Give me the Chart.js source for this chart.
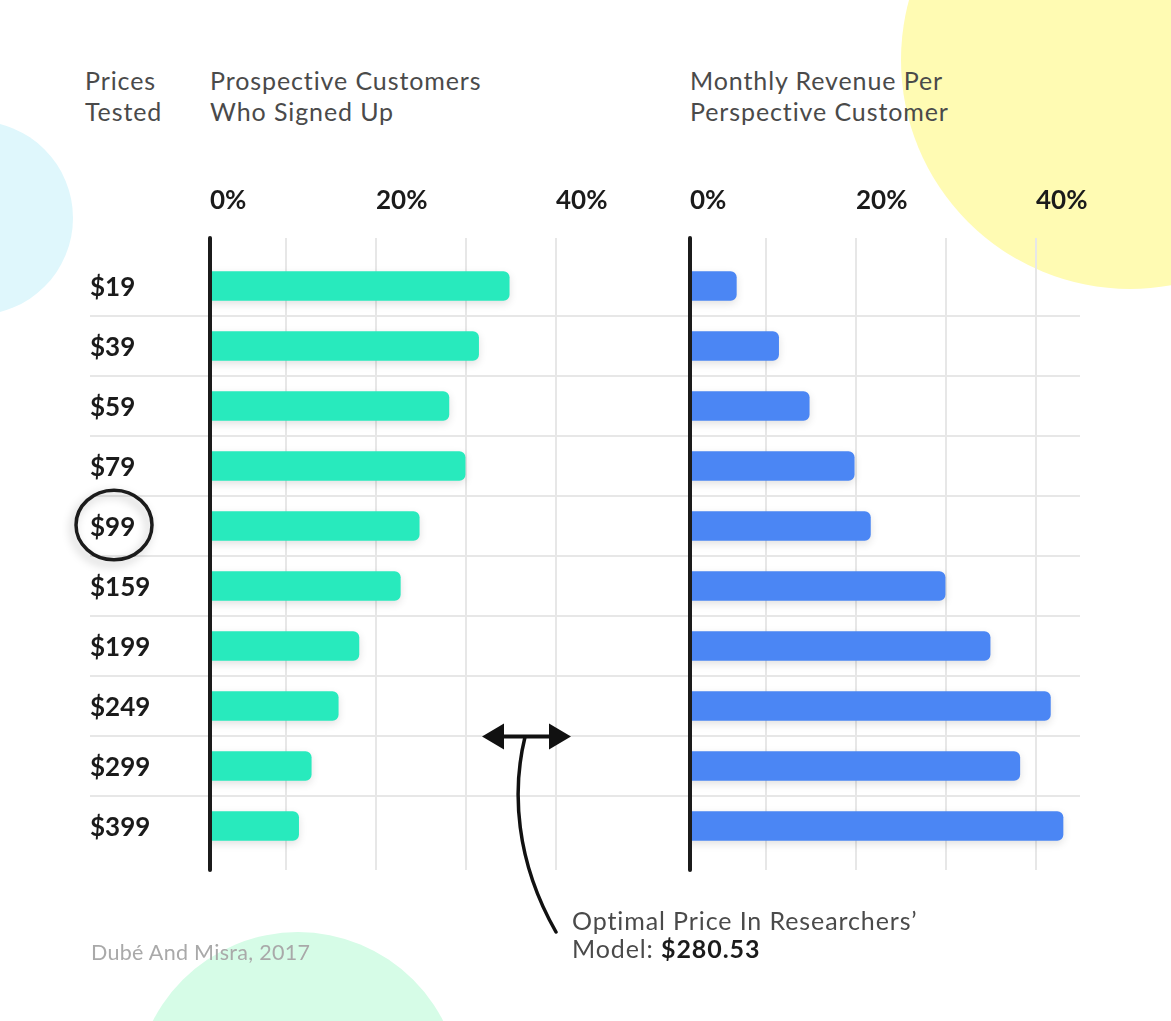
<!DOCTYPE html>
<html>
<head>
<meta charset="utf-8">
<title>Prices tested</title>
<script src="https://cdn.jsdelivr.net/npm/chart.js@4.4.1/dist/chart.umd.min.js"></script>
<style>
  html, body { margin: 0; padding: 0; background: #fff; }
  #page { position: relative; width: 1171px; height: 1021px; overflow: hidden; font-family: Lato, "Open Sans", sans-serif; }
  .blob { position: absolute; border-radius: 50%; }
  .layer { position: absolute; left: 0; top: 0; }
  .head { position: absolute; top: 65px; font-size: 25px; letter-spacing: 0.9px; line-height: 31px; color: #4a4a4a; white-space: nowrap; }
  .note { position: absolute; left: 572px; top: 906px; font-size: 25px; letter-spacing: 0.9px; line-height: 28px; color: #4a4a4a; white-space: nowrap; }
  .note b { color: #1b1b1b; font-weight: 700; }
  .source { position: absolute; left: 91px; top: 939px; font-size: 21.5px; letter-spacing: 0.3px; line-height: 26px; color: #a9a9a9; white-space: nowrap; }
</style>
</head>
<body>
<div id="page">
  <div class="blob" style="left:-121px; top:121px; width:194px; height:194px; background:#dff7fc;"></div>
  <div class="blob" style="left:901px; top:-169px; width:458px; height:458px; background:#fffbb3;"></div>
  <div class="blob" style="left:135px; top:932px; width:326px; height:326px; background:#d6fce7;"></div>

  <div class="head" style="left:85px;">Prices<br>Tested</div>
  <div class="head" style="left:210px;">Prospective Customers<br>Who Signed Up</div>
  <div class="head" style="left:690px;">Monthly Revenue Per<br>Perspective Customer</div>

  <canvas id="signups" class="layer" width="1171" height="1021"></canvas>
  <canvas id="revenue" class="layer" width="1171" height="1021"></canvas>

  <svg class="layer" width="1171" height="1021">
    <line x1="500" y1="736.5" x2="553" y2="736.5" stroke="#111" stroke-width="4"/>
    <polygon points="482,736.5 504,723.5 504,749.5" fill="#111"/>
    <polygon points="571,736.5 549,723.5 549,749.5" fill="#111"/>
    <path d="M 525 737 C 512 790, 515 860, 556 932" fill="none" stroke="#111" stroke-width="3.5" stroke-linecap="round"/>
  </svg>

  <div class="note">Optimal Price In Researchers’<br>Model: <b>$280.53</b></div>
  <div class="source">Dubé And Misra, 2017</div>
</div>

<script>
// values (percent)
const categories = ['$19', '$39', '$59', '$79', '$99', '$159', '$199', '$249', '$299', '$399'];
const signupShare = [34.8, 31.4, 28.1, 29.9, 24.8, 22.7, 18.1, 15.8, 12.8, 11.4];
const revenueShare = [6.7, 11.4, 14.8, 19.8, 21.6, 29.9, 34.9, 41.6, 38.2, 43.0];
const tickValues = [1.55, 10, 20, 30, 40];
const tickLabels = ['0%', '', '20%', '', '40%'];
const axisMin = 1.55;
const axisMax = 45;
const highlighted = '$99';

const INK = '#1b1b1b';
const GRID = '#e7e7e7';

Chart.defaults.font.family = 'Lato';

const framePlugin = {
    id: 'frame',
    beforeDatasetsDraw(chart, args, opts) {
        const { ctx, chartArea: area, scales: { x, y } } = chart;
        ctx.save();
        ctx.strokeStyle = GRID;
        ctx.lineWidth = 2;
        // grid runs a little past the bottom row
        x.ticks.forEach((t, i) => {
            if (i === 0) return;
            const px = Math.round(x.getPixelForValue(t.value));
            ctx.beginPath();
            ctx.moveTo(px, area.bottom);
            ctx.lineTo(px, area.bottom + 14);
            ctx.stroke();
        });
        // row separators across both panels
        if (opts.rows) {
            for (let i = 0; i < categories.length - 1; i++) {
                const py = Math.round((y.getPixelForValue(i) + y.getPixelForValue(i + 1)) / 2);
                ctx.beginPath();
                ctx.moveTo(opts.rows[0], py);
                ctx.lineTo(opts.rows[1], py);
                ctx.stroke();
            }
        }
        ctx.restore();
    },
    beforeDatasetDraw(chart) {
        const ctx = chart.ctx;
        ctx.save();
        ctx.shadowColor = 'rgba(0, 0, 0, 0.12)';
        ctx.shadowBlur = 8;
        ctx.shadowOffsetY = 3;
    },
    afterDatasetDraw(chart) {
        chart.ctx.restore();
    },
    afterDatasetsDraw(chart, args, opts) {
        const { ctx, chartArea: area, scales: { y } } = chart;
        ctx.save();
        ctx.strokeStyle = INK;
        ctx.lineWidth = 4;
        ctx.lineCap = 'round';
        ctx.beginPath();
        ctx.moveTo(area.left, area.top - 18);
        ctx.lineTo(area.left, area.bottom + 14);
        ctx.stroke();

        if (opts.circle) {
            const cy = y.getPixelForValue(categories.indexOf(highlighted)) - 1;
            ctx.shadowColor = 'rgba(0, 0, 0, 0.25)';
            ctx.shadowBlur = 10;
            ctx.shadowOffsetX = -3;
            ctx.shadowOffsetY = 4;
            ctx.lineWidth = 3.5;
            ctx.beginPath();
            ctx.ellipse(y.left + 24, cy, 38, 34.8, 0, 0, Math.PI * 2);
            ctx.stroke();
        }
        ctx.restore();
    }
};

function makeChart(id, values, color, padLeft, padRight, showLabels) {
    return new Chart(document.getElementById(id), {
        type: 'bar',
        data: {
            labels: categories,
            datasets: [{
                data: values,
                backgroundColor: color,
                barThickness: 29,
                borderRadius: 6,
                borderSkipped: 'start'
            }]
        },
        options: {
            indexAxis: 'y',
            responsive: false,
            animation: false,
            layout: { padding: { left: padLeft, right: padRight, top: 186, bottom: 165 } },
            plugins: {
                legend: { display: false },
                tooltip: { enabled: false },
                frame: { rows: showLabels ? [90, 1080] : null, circle: showLabels }
            },
            scales: {
                x: {
                    position: 'top',
                    min: axisMin,
                    max: axisMax,
                    afterBuildTicks: scale => {
                        scale.ticks = tickValues.map(v => ({ value: v }));
                    },
                    afterFit: scale => { scale.height = 70; },
                    grid: { color: GRID, lineWidth: 2, tickLength: 18, drawTicks: true },
                    border: { display: false },
                    ticks: {
                        align: 'start',
                        padding: 22,
                        maxRotation: 0,
                        autoSkip: false,
                        color: INK,
                        font: { size: 26, weight: 'bold' },
                        callback: (value, index) => tickLabels[index]
                    }
                },
                y: {
                    display: showLabels,
                    afterFit: scale => { if (showLabels) scale.width = 120; },
                    grid: { display: false },
                    border: { display: false },
                    ticks: {
                        crossAlign: 'far',
                        labelOffset: 1.5,
                        color: INK,
                        font: { size: 26, weight: 'bold' }
                    }
                }
            }
        },
        plugins: [framePlugin]
    });
}

makeChart('signups', signupShare, '#28eabd', 90, 570, true);
makeChart('revenue', revenueShare, '#4b86f4', 690, 90, false);
</script>
</body>
</html>
